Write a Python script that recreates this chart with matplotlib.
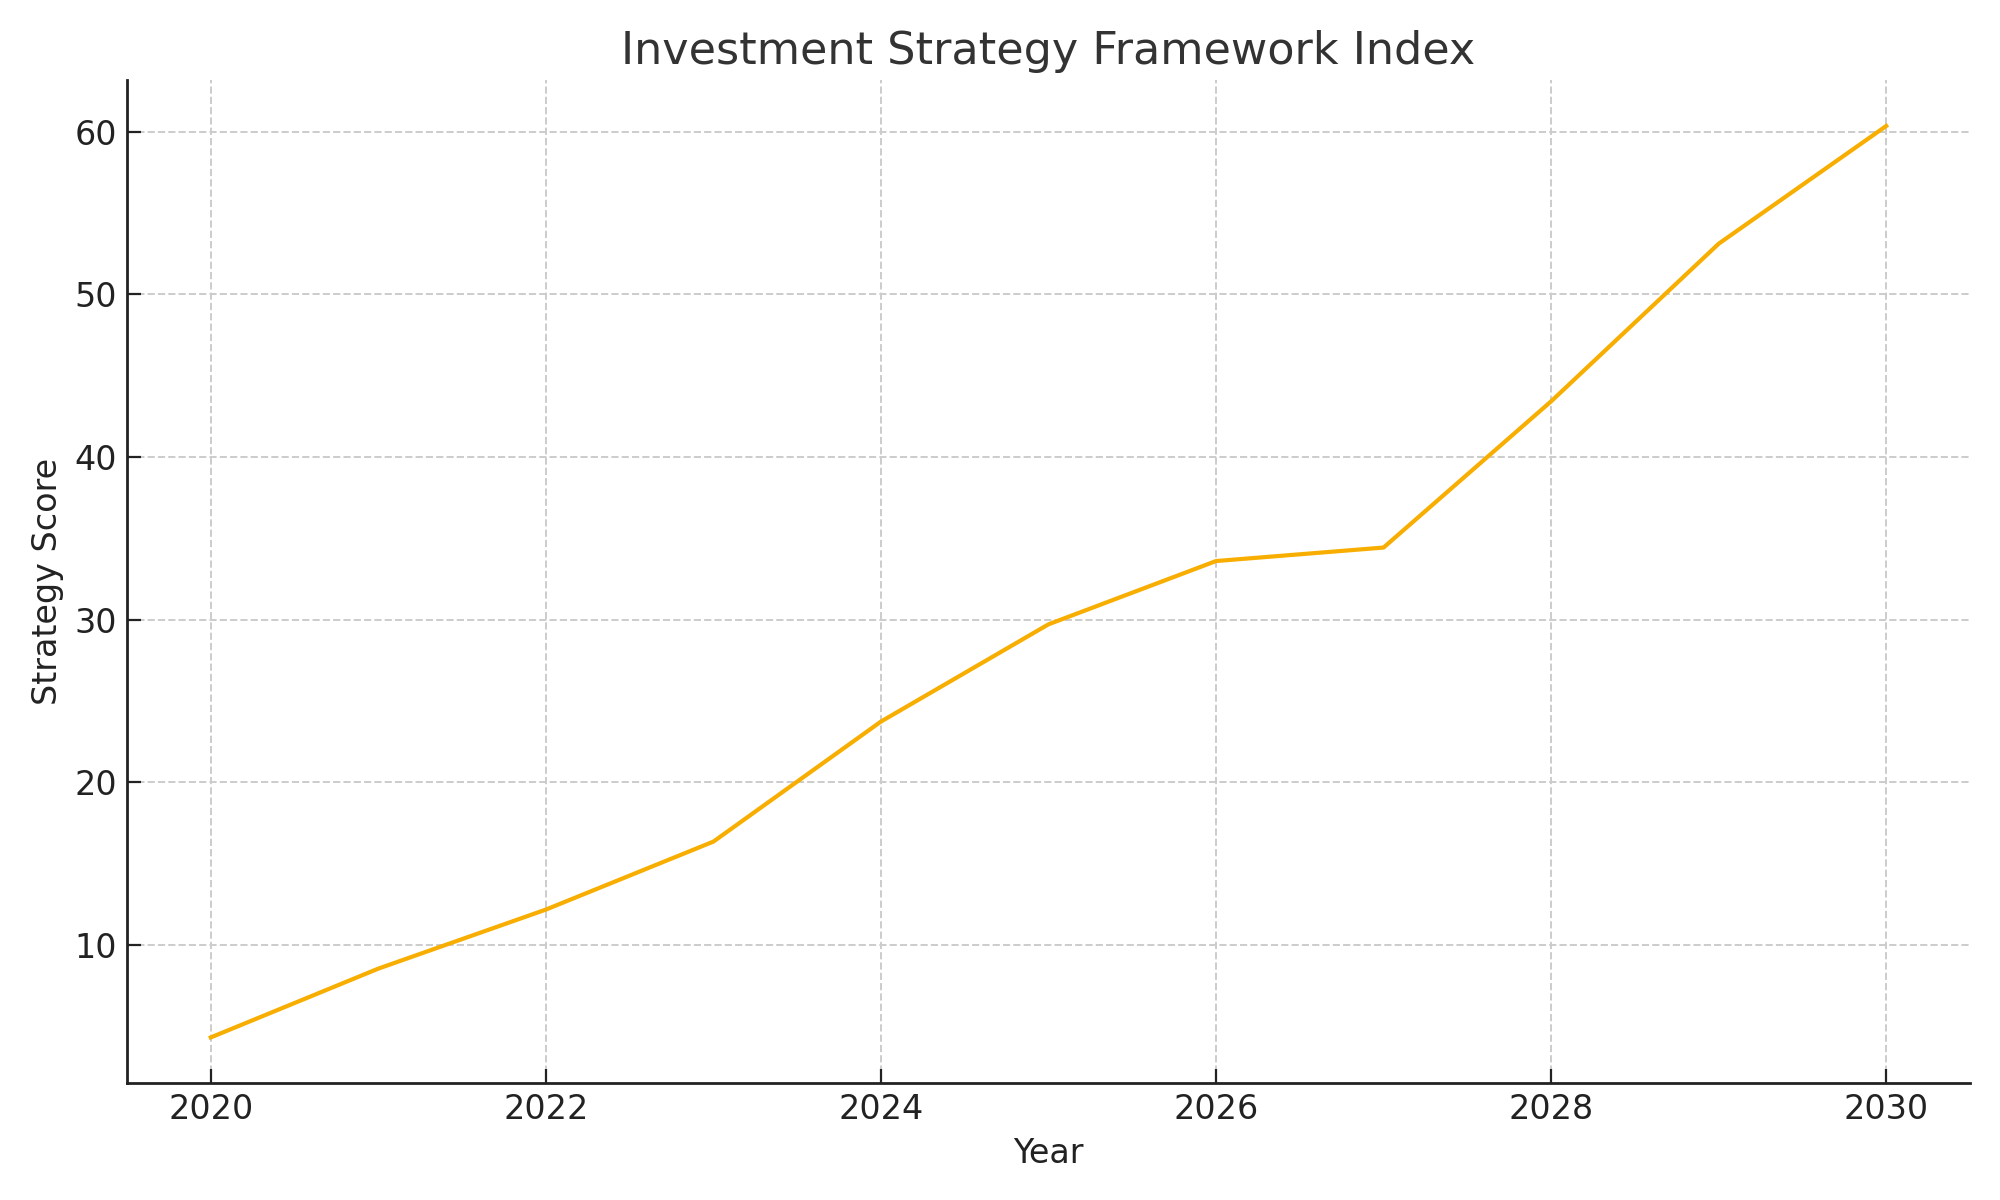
import matplotlib
matplotlib.use("Agg")
import matplotlib.pyplot as plt

years = [2020, 2021, 2022, 2023, 2024, 2025, 2026, 2027, 2028, 2029, 2030]
scores = [4.32, 8.55, 12.18, 16.36, 23.74, 29.72, 33.61, 34.44, 43.43, 53.12, 60.36]

title = "Investment Strategy Framework Index"
xlabel = "Year"
ylabel = "Strategy Score"

fig = plt.figure(figsize=(10, 6), dpi=200)
ax = fig.add_axes([0.0635, 0.0975, 0.9215, 0.8355])
ax.plot(years, scores, color="#F7AE00", linewidth=1.5)

ax.set_title(title, fontsize=16, color="#333333", pad=6)
ax.set_xlabel(xlabel, fontsize=12, color="#222222")
ax.set_ylabel(ylabel, fontsize=12, color="#222222")
ax.set_xticks([2020, 2022, 2024, 2026, 2028, 2030])
ax.set_yticks([10, 20, 30, 40, 50, 60])
ax.tick_params(direction="in", labelsize=12, colors="#222222", length=5)
ax.grid(True, linestyle="--", color="#cccccc", linewidth=0.7)
ax.spines["top"].set_visible(False)
ax.spines["right"].set_visible(False)
for s in ("left", "bottom"):
    ax.spines[s].set_color("#222222")
    ax.spines[s].set_linewidth(1.0)

fig.savefig("out.png", dpi=200)
